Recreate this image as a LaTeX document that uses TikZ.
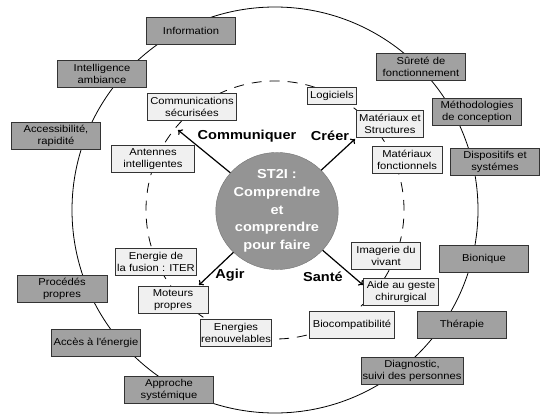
\documentclass[tikz,border=0pt]{standalone}
\usepackage{fontspec}
\setmainfont{Liberation Sans}[FakeStretch=1.12]
\usetikzlibrary{arrows.meta,shapes.geometric}

\begin{document}
\begin{tikzpicture}[x=1pt,y=-1pt,
    outer/.style={draw=black!80,fill=black!37,line width=0.9pt,align=center,
      minimum width=89pt,minimum height=27pt,inner xsep=1pt,inner ysep=0pt,
      font=\fontsize{10}{12.5}\selectfont},
    inner/.style={draw=black!80,fill=black!6,line width=0.9pt,align=center,
      minimum height=27pt,inner xsep=3pt,inner ysep=0pt,
      font=\fontsize{10}{12.5}\selectfont},
    hub/.style={ellipse,draw=black!55,fill=black!42,minimum width=120pt,
      minimum height=107pt,inner sep=0pt,align=center,text=white,
      font=\fontsize{13}{17.75}\selectfont\bfseries},
    action/.style={font=\fontsize{13}{15}\selectfont\bfseries}]
  \useasboundingbox (0,0) rectangle (545,414);
  % circles
  \draw[line width=0.8pt] (275,210) circle[radius=203pt];
  \draw[line width=0.8pt,dash pattern=on 10pt off 8pt] (275,210) circle[radius=129pt];
  % centre
  \path (277,211) node[hub] (st2i) {ST2I :\\Comprendre\\et\\comprendre\\pour faire};
  % outer ring
  \path
    (191,31) node[outer] (info) {Information}
    (102,74) node[outer] (intel) {Intelligence\\ambiance}
    (56,136) node[outer] (access) {Accessibilité,\\rapidité}
    (421,67) node[outer] (surete) {Sûreté de\\fonctionnement}
    (477,112) node[outer] (methodo) {Méthodologies\\de conception}
    (495,162) node[outer] (dispo) {Dispositifs et\\systémes}
    (484,259) node[outer] (bionique) {Bionique}
    (462,325) node[outer] (therapie) {Thérapie}
    (412,371) node[outer,minimum width=102pt] (diag) {Diagnostic,\\suivi des personnes}
    (169,390) node[outer] (approche) {Approche\\systémique}
    (96,343) node[outer] (acces) {Accès à l\textquotesingle énergie}
    (62,289) node[outer,minimum width=90pt] (procedes) {Procédés\\propres};
  % inner ring
  \path
    (192,107) node[inner] (comm) {Communications\\sécurisées}
    (153,159) node[inner,minimum width=83pt] (antennes) {Antennes\\intelligentes}
    (332,96) node[inner,minimum height=17pt] (logiciels) {Logiciels}
    (390,124) node[inner] (matstruct) {Matériaux et\\Structures}
    (407,160) node[inner,minimum width=70pt] (matfonc) {Matériaux\\fonctionnels}
    (386,256) node[inner,minimum width=69pt] (imagerie) {Imagerie du\\vivant}
    (401,292) node[inner] (aide) {Aide au geste\\chirurgical}
    (352,325) node[inner,minimum width=83pt] (biocomp) {Biocompatibilité}
    (236,333) node[inner,inner xsep=1pt] (energies) {Energies\\renouvelables}
    (173,300) node[inner,minimum width=70pt] (moteurs) {Moteurs\\propres}
    (156,262) node[inner,inner xsep=2pt] (fusion) {Energie de\\la fusion : ITER};
  % verbs
  \path
    (247,136) node[action] (communiquer) {Communiquer}
    (330,136) node[action] (creer) {Créer}
    (230,275) node[action] (agir) {Agir}
    (323,277) node[action] (sante) {Santé};
  \coordinate (comTip) at (178,130);
  \coordinate (creTip) at (355,139);
  \coordinate (agirTip) at (199,285);
  \coordinate (santeTip) at (363,285);
  \begin{scope}[line width=1.2pt,-{To[length=4pt,width=7pt]}]
    \draw (st2i) to (comTip);
    \draw (st2i) to (creTip);
    \draw (st2i) to (agirTip);
    \draw (st2i) to (santeTip);
  \end{scope}
\end{tikzpicture}
\end{document}
